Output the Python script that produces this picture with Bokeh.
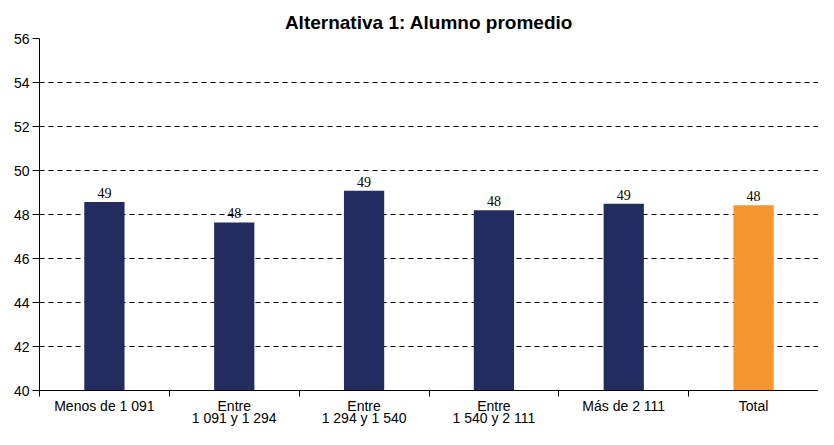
from bokeh.plotting import figure
from bokeh.models import ColumnDataSource, FixedTicker, Range1d, LabelSet
from bokeh.embed import file_html
from bokeh.resources import INLINE

categories = ["Menos de 1 091", "Entre\n1 091 y 1 294", "Entre\n1 294 y 1 540",
              "Entre\n1 540 y 2 111", "Más de 2 111", "Total"]
values = [48.57, 47.64, 49.08, 48.19, 48.49, 48.42]
labels = ["49", "48", "49", "48", "49", "48"]
colors = ["#232C5F", "#232C5F", "#232C5F", "#232C5F", "#232C5F", "#F7962F"]
y_ticks = [40, 42, 44, 46, 48, 50, 52, 54, 56]

xpos = [i + 0.5 for i in range(len(categories))]
src = ColumnDataSource(dict(x=xpos, top=values, lab=labels, color=colors))

p = figure(width=818, height=429, output_backend="svg", toolbar_location=None,
           x_range=Range1d(0, len(categories)), y_range=Range1d(40, 56),
           title="Alternativa 1: Alumno promedio",
           min_border_left=39, min_border_right=0, min_border_top=38,
           min_border_bottom=0)
p.title.align = "center"
p.title.text_font = "Liberation Sans"
p.title.text_font_size = "19px"
p.title.text_font_style = "bold"
p.title.text_color = "#000000"
p.title.standoff = 12

p.vbar(x="x", top="top", bottom=40, width=0.31, color="color", source=src,
       line_color=None)

p.add_layout(LabelSet(x="x", y="top", text="lab", source=src, text_align="center",
                      text_baseline="bottom", y_offset=4,
                      text_font="Liberation Sans", text_font_size="14px",
                      text_color="#000000"))

p.outline_line_color = None
p.background_fill_color = "white"
p.border_fill_color = "white"

p.xgrid.visible = False
p.ygrid.ticker = FixedTicker(ticks=y_ticks)
p.ygrid.grid_line_color = "#000000"
p.ygrid.grid_line_dash = "5 4"
p.ygrid.grid_line_width = 1

p.yaxis.ticker = FixedTicker(ticks=y_ticks)
p.yaxis.axis_line_color = "#000000"
p.yaxis.major_tick_line_color = "#000000"
p.yaxis.major_tick_in = 0
p.yaxis.major_tick_out = 7
p.yaxis.minor_tick_line_color = None
p.yaxis.major_label_text_font = "Liberation Sans"
p.yaxis.major_label_text_font_size = "14px"
p.yaxis.major_label_text_color = "#000000"
p.yaxis.major_label_standoff = 3

p.xaxis.ticker = FixedTicker(ticks=xpos, minor_ticks=list(range(len(categories) + 1)))
p.xaxis.major_label_overrides = {x: c for x, c in zip(xpos, categories)}
p.xaxis.axis_line_color = "#000000"
p.xaxis.major_tick_line_color = None
p.xaxis.minor_tick_line_color = "#000000"
p.xaxis.minor_tick_in = 0
p.xaxis.minor_tick_out = 6
p.xaxis.major_label_text_font = "Liberation Sans"
p.xaxis.major_label_text_font_size = "14px"
p.xaxis.major_label_text_color = "#000000"
p.xaxis.major_label_standoff = 1
p.xaxis.major_label_text_line_height = 0.8

open("out.html", "w").write(file_html(p, INLINE))
